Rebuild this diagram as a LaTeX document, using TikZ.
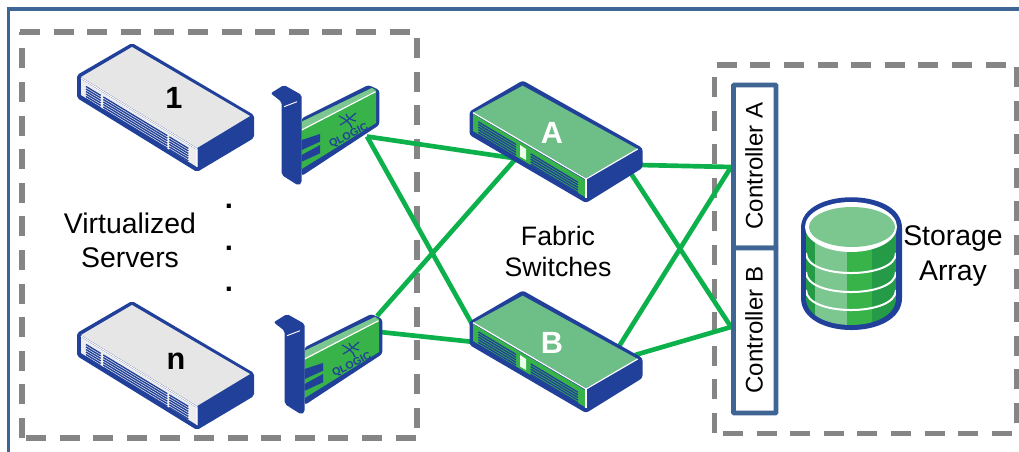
\documentclass[tikz,border=0pt]{standalone}
\usepackage{fontspec}
\setmainfont{Liberation Sans}
\definecolor{devblue}{HTML}{21409A}
\definecolor{framecol}{HTML}{3F6595}
\definecolor{dashcol}{HTML}{858585}
\definecolor{linkgreen}{HTML}{0DB14B}
\definecolor{midgreen}{HTML}{37B34A}
\definecolor{lightgreen}{HTML}{6EBE87}
\definecolor{palegreen}{HTML}{7CC68F}
\definecolor{darkgreen}{HTML}{259A47}
\definecolor{topgray}{HTML}{E6E6E6}
\definecolor{frontgray}{HTML}{EDEDED}
\tikzset{
  dashline/.style={draw=dashcol,line width=4.1pt,dash pattern=on 15pt off 10.2pt},
  linkline/.style={draw=linkgreen,line width=3.5pt},
  ventline/.style={draw=devblue,line width=1pt},
  lab/.style={font=\fontsize{21.3}{25}\selectfont,text=black,inner sep=0pt},
  fablab/.style={font=\fontsize{20}{24}\selectfont,text=black,inner sep=0pt},
  ctrlbox/.style={draw=framecol,line width=3.6pt,fill=white,rounded corners=0.6pt},
  ctrllab/.style={font=\fontsize{18}{22}\selectfont,rotate=90,inner sep=0pt},
  boldlab/.style={font=\fontsize{23}{26}\bfseries\selectfont,inner sep=0pt},
  serverdev/.pic={
    \fill[devblue,rounded corners=1.5pt] (132,43) -- (254,115) -- (254,138) -- (197,172) -- (77,98) -- (77,75) -- cycle;
    \fill[frontgray] (81,79) -- (197,150) -- (197,167) -- (81,95) -- cycle;
    \draw[white,line width=0.9pt] (81,78) -- (197,149) -- (197,167);
    \fill[devblue] (199,150) -- (251,118) -- (251,137) -- (199,167) -- cycle;
    \fill[topgray] (132,47) -- (250,116) -- (197,148) -- (81,77) -- cycle;
    \foreach \d in {5.5,8,10.5,13,15.5,18}{
      \draw[ventline] (86,81+\d) -- (100.7,89.9+\d);
      \draw[ventline] (103.3,91.5+\d) -- (167.3,130.2+\d);
      \draw[ventline] (169.3,131.4+\d) -- (188.3,142.9+\d);
    }
  },
  switchdev/.pic={
    \fill[devblue,rounded corners=2pt] (522.7,80.5) -- (642.5,148) -- (642.5,168) -- (586,203) -- (469.5,135) -- (469.5,111.5) -- cycle;
    \fill[midgreen] (473,114) -- (585,180) -- (585,197) -- (473,131) -- cycle;
    \fill[lightgreen] (522.7,85.7) -- (637.7,149) -- (586,178) -- (473,112.7) -- cycle;
    \draw[white,line width=0.9pt] (473,112.7) -- (586,179) -- (637.7,149);
    \draw[white,line width=0.9pt] (586,179) -- (586,198);
    \foreach \d in {6,8.6,11.2,13.8,16.4,19}{
      \draw[ventline] (478.3,115.9+\d) -- (516,138.5+\d);
      \draw[ventline] (530.7,147.9+\d) -- (578,176.3+\d);
    }
    \fill[white!92!green] (520,145) -- (526,149) -- (526,160) -- (520,156.5) -- cycle;
  },
  carddev/.pic={
    \fill[devblue,rounded corners=2pt] (301.7,118.3) -- (368.3,85) -- (379.3,90) -- (379.3,125) -- (301.7,176) -- cycle;
    \fill[midgreen] (301.7,121.7) -- (372,88) -- (376,90) -- (376,123) -- (301.7,169) -- cycle;
    \fill[palegreen] (301.7,121.7) -- (372,88) -- (375,91) -- (301.7,130) -- cycle;
    \draw[white,line width=0.9pt] (301.7,130) -- (375.5,91.7);
    \fill[devblue] (301.7,140) -- (320,134) -- (320,141.7) -- (301.7,150) -- cycle;
    \fill[devblue] (301.7,155) -- (320,145) -- (320,153.3) -- (301.7,161.7) -- cycle;
    \fill[devblue,rounded corners=1.5pt] (270.7,93.3) -- (284,85) -- (301.7,95) -- (301.7,183) -- (298.3,185.5) -- (281.7,175) -- (281.7,102) -- cycle;
    \draw[white,line width=0.7pt] (284,106.7) -- (297,101.7);
    \draw[devblue,line width=0.9pt] (339,116) .. controls (345,119) and (350,122) .. (352,128);
    \draw[devblue,line width=0.9pt] (356,113) .. controls (350,118) and (346,122) .. (340,125);
    \draw[devblue,line width=0.9pt] (346,114) .. controls (347,118) and (351,120) .. (356,121);
    \node[rotate=27,font=\fontsize{8}{9}\bfseries\selectfont,text=devblue,inner sep=0pt] at (349,136) {QLOGIC};
  }
}
\begin{document}
\begin{tikzpicture}[x=0.75pt,y=-0.75pt]
\useasboundingbox (0,0) rectangle (1019,452);
\fill[white] (0,0) rectangle (1019,452);
% outer frame
\draw[framecol,line width=2.6pt] (8.5,452) -- (8.5,9) -- (1019,9);
% dashed groups
\draw[dashline] (20,32) -- (418,32);
\draw[dashline] (417,38) -- (417,438);
\draw[dashline] (26,438) -- (418,438);
\draw[dashline] (22,438) -- (22,32);
\draw[dashline] (716.7,65) -- (1014,65);
\draw[dashline] (723,433.3) -- (1014,433.3);
\draw[dashline] (714.3,433) -- (714.3,65);
\draw[dashline] (1016.5,423) -- (1016.5,65);
% anchors for the links
\coordinate (cardOneP) at (367,136.5);
\coordinate (cardNUp) at (377,316);
\coordinate (cardNLow) at (380,332);
\coordinate (swAleft) at (516,158.5);
\coordinate (swAlow) at (516,158.5);
\coordinate (swAr) at (640,165);
\coordinate (swAd) at (630,172);
\coordinate (swBul) at (472,324);
\coordinate (swBl) at (474,342);
\coordinate (swBur) at (618,348);
\coordinate (swBr) at (635,355);
\coordinate (ctrlAp) at (731,167);
\coordinate (ctrlBp) at (731,327);
% links
\draw[linkline] (cardOneP) -- (swAleft);
\draw[linkline] (cardOneP) -- (swBul);
\draw[linkline] (cardNUp) -- (swAlow);
\draw[linkline] (cardNLow) -- (swBl);
\draw[linkline] (swAr) -- (ctrlAp);
\draw[linkline] (swAd) -- (ctrlBp);
\draw[linkline] (swBur) -- (ctrlAp);
\draw[linkline] (swBr) -- (ctrlBp);
% devices
\pic at (0,0) {serverdev};
\pic at (0,258) {serverdev};
\pic at (0,0) {carddev};
\pic at (3,229) {carddev};
\pic at (0,0) {switchdev};
\pic at (0,210) {switchdev};
\node[boldlab] (srvOne) at (174,98) {1};
\node[boldlab] (srvN) at (176,361) {n};
\node[boldlab,text=white] (swA) at (552,133) {A};
\node[boldlab,text=white] (swB) at (552,343) {B};
% texts
\node[lab] (virt) at (130,223) {Virtualized};
\node[lab] (serv) at (130,258) {Servers};
\node[fablab] (fab) at (558,235.5) {Fabric};
\node[fablab] (swi) at (558,266.5) {Switches};
\node[lab] (stor) at (953,239) {Storage};
\node[lab] (arr) at (953,274) {Array};
\node[font=\fontsize{22}{24}\bfseries\selectfont,inner sep=0pt,anchor=base] (dotA) at (229,209) {.};
\node[font=\fontsize{22}{24}\bfseries\selectfont,inner sep=0pt,anchor=base] (dotB) at (229,250) {.};
\node[font=\fontsize{22}{24}\bfseries\selectfont,inner sep=0pt,anchor=base] (dotC) at (229,291) {.};
% controllers
\draw[ctrlbox] (733.5,85) rectangle (776,248);
\draw[ctrlbox] (733.5,248) rectangle (776,413);
\node[ctrllab] (ctrlA) at (754,166) {Controller A};
\node[ctrllab] (ctrlB) at (754,330) {Controller B};
% storage cylinder
\fill[devblue] (801,228) -- (801,298) .. controls (801,340.7) and (902,340.7) .. (902,298) -- (902,228) .. controls (902,187) and (801,187) .. (801,228) -- cycle;
\begin{scope}
\clip (806,228) -- (806,298) .. controls (806,334) and (896,334) .. (896,298) -- (896,228) -- cycle;
\fill[darkgreen] (806,228) rectangle (815,330);
\fill[palegreen] (815,228) rectangle (847,330);
\fill[midgreen] (847,228) rectangle (872,330);
\fill[darkgreen] (872,228) rectangle (896,330);
\draw[white,line width=1.5pt] (806,253) .. controls (806,279.7) and (896,279.7) .. (896,253);
\draw[white,line width=1.5pt] (806,272) .. controls (806,298.7) and (896,298.7) .. (896,272);
\draw[white,line width=1.5pt] (806,290) .. controls (806,316.7) and (896,316.7) .. (896,290);
\end{scope}
\fill[white] (851,227) ellipse [x radius=46,y radius=25];
\fill[palegreen] (852,227) ellipse [x radius=43,y radius=20];
\end{tikzpicture}
\end{document}
